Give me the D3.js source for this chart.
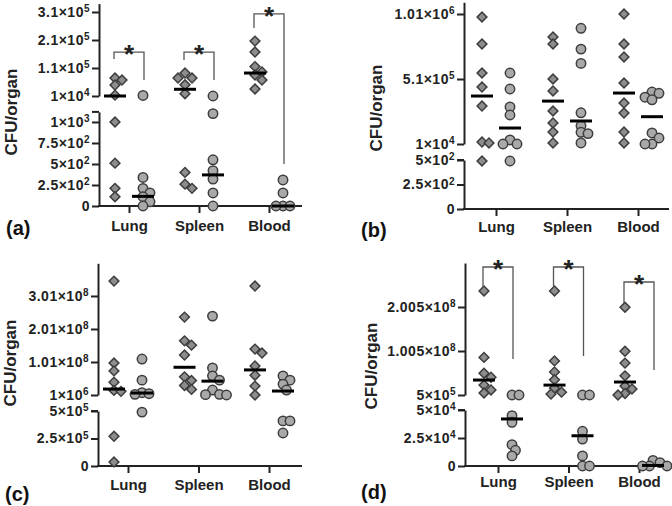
<!DOCTYPE html>
<html>
<head>
<meta charset="utf-8">
<script src="https://cdn.jsdelivr.net/npm/d3@7"></script>
<style>
  body { margin: 0; background: #fff; }
  svg { display: block; }
</style>
</head>
<body>
<svg id="chart" width="672" height="506"></svg>
<script>
const categories = ["Lung", "Spleen", "Blood"];

// (a) values, CFU/organ
const aDiamonds = [
  [74000, 67000, 49000, 13000, 1000, 510, 210, 110],
  [92000, 74000, 74000, 50000, 18000, 400, 260, 210],
  [206000, 167000, 115000, 96000, 85000, 67000, 35000]
];
const aCircles = [
  [12000, 340, 210, 155, 110, 50, 0],
  [10000, 1100, 550, 420, 320, 155, 0],
  [310, 155, 0, 0, 0]
];
const aMedDiamonds = [10000, 34000, 92000];
const aMedCircles = [115, 370, 0];
const aUpperTicks = [1e4, 1.1e5, 2.1e5, 3.1e5];
const aLowerTicks = [0, 250, 500, 750, 1000];
// significance brackets: [top, left leg end, right leg end]
const aBrackets = [
  [167000, 142000, 67000],
  [167000, 139000, 67000],
  [303000, 253000, 500]
];

// (b)
const bDiamonds = [
  [987000, 779000, 556000, 448000, 302000, 25000, 18000, 490],
  [833000, 779000, 510000, 418000, 264000, 172000, 102000, 18000],
  [1010000, 779000, 679000, 479000, 325000, 248000, 102000, 18000]
];
const bCircles = [
  [556000, 433000, 295000, 233000, 41000, 10000, 10000, 490],
  [900000, 740000, 630000, 250000, 150000, 100000, 90000, 18000],
  [410000, 400000, 370000, 350000, 95000, 56000, 10000, 10000]
];
const bMedDiamonds = [379000, 340000, 402000];
const bMedCircles = [133000, 187000, 220000];
const bUpperTicks = [1e4, 5.1e5, 1.01e6];
const bLowerTicks = [0, 250, 500];

// (c)
const cDiamonds = [
  [346e6, 98e6, 74e6, 40e6, 15e6, 12e6, 270000, 36000],
  [237e6, 165e6, 152e6, 122e6, 56e6, 45e6, 30e6, 18e6],
  [331e6, 140e6, 128e6, 89e6, 61e6, 28e6, 1e6]
];
const cCircles = [
  [110e6, 46e6, 8e6, 5e6, 3e6, 490000],
  [240e6, 83e6, 59e6, 46e6, 16e6, 3e6, 2e6, 1e6],
  [59e6, 46e6, 34e6, 16e6, 410000, 410000, 300000]
];
const cMedDiamonds = [19e6, 85e6, 77e6];
const cMedCircles = [7e6, 43e6, 13e6];
const cUpperTicks = [1e6, 1.01e8, 2.01e8, 3.01e8];
const cLowerTicks = [0, 2.5e5, 5e5];

// (d)
const dDiamonds = [
  [237e6, 86e6, 50e6, 41e6, 23e6, 12e6, 5e6],
  [237e6, 78e6, 53e6, 35e6, 16e6, 7e6, 2.5e6],
  [200e6, 100e6, 73e6, 44e6, 21e6, 14e6, 4e6, 5e5]
];
const dCircles = [
  [500000, 500000, 45000, 39000, 19000, 14000, 9000],
  [500000, 500000, 31000, 24000, 9000, 0, 0],
  [5000, 3000, 0, 0, 0]
];
const dMedDiamonds = [34.5e6, 23e6, 30e6];
const dMedCircles = [42000, 27000, 500];
const dUpperTicks = [5e5, 1.005e8, 2.005e8];
const dLowerTicks = [0, 2.5e4, 5e4];
const dBrackets = [
  [291.4e6, 243.7e6, 82.3e6],
  [291.4e6, 248e6, 89e6],
  [257.3e6, 209.6e6, 57.3e6]
];

const FONT = '"Liberation Sans", Arial, Helvetica, sans-serif';
const svg = d3.select("#chart");

function tickParts(v) {
  if (v === 0) return ["0", null];
  const [m, e] = v.toExponential().split("e");
  return [m + "×10", String(+e)];
}

// place points of one group so they don't pile up (column scatter)
function dodge(values, cx, y) {
  const placed = [];
  return values
    .map(v => ({ v, py: y(v) }))
    .sort((a, b) => a.py - b.py)
    .map(d => {
      for (let k = 0; k < 40; k++) {
        const off = k === 0 ? 0 : (k % 2 ? 1 : -1) * Math.ceil(k / 2) * 3.5;
        const px = cx + off;
        if (placed.every(q => Math.hypot(q.px - px, q.py - d.py) >= 6.5)) {
          const r = { v: d.v, px, py: d.py };
          placed.push(r);
          return r;
        }
      }
      return { v: d.v, px: cx, py: d.py };
    });
}

function drawPanel(p) {
  const g = svg.append("g");

  const x = d3.scalePoint().domain(categories).range([p.catL, p.catR]).padding(0.5);
  const yU = d3.scaleLinear().domain(p.upperDomain).range(p.upperRange);
  const yL = d3.scaleLinear().domain(p.lowerDomain).range(p.lowerRange);
  const y = v => v >= p.upperDomain[0] ? yU(v) : yL(Math.min(v, p.lowerDomain[1]));

  // y axis, two segments
  [[yU, p.upperTicks], [yL, p.lowerTicks]].forEach(([sc, ticks]) => {
    const ax = g.append("g")
      .attr("transform", `translate(${p.axisX},0)`)
      .call(d3.axisLeft(sc).tickValues(ticks).tickSize(7).tickSizeOuter(0).tickPadding(2).tickFormat(""));
    ax.attr("font-family", FONT).attr("font-size", 14).attr("font-weight", "bold");
    ax.selectAll("path, line").attr("stroke", "#222").attr("stroke-width", 2);
    ax.selectAll(".tick text").attr("fill", "#222").attr("letter-spacing", 0.5).each(function(d) {
      const [m, e] = tickParts(d);
      const t = d3.select(this).text(null);
      t.append("tspan").text(m);
      if (e) t.append("tspan").attr("dy", "-0.45em").attr("font-size", 10).text(e);
    });
  });
  // cap at the top of the lower segment
  g.append("line")
    .attr("x1", p.axisX - 7).attr("x2", p.axisX)
    .attr("y1", yL(p.lowerDomain[1])).attr("y2", yL(p.lowerDomain[1]))
    .attr("stroke", "#222").attr("stroke-width", 2);

  // x axis
  const y0 = yL(0);
  g.append("line")
    .attr("x1", p.axisX - 1).attr("x2", p.xEnd)
    .attr("y1", y0).attr("y2", y0)
    .attr("stroke", "#222").attr("stroke-width", 2);
  const xa = g.append("g")
    .attr("transform", `translate(0,${y0})`)
    .call(d3.axisBottom(x).tickSize(7).tickSizeOuter(0));
  xa.select(".domain").remove();
  xa.selectAll("line").attr("stroke", "#222").attr("stroke-width", 2);
  xa.selectAll("text")
    .attr("y", p.catBaseline - y0).attr("dy", 0)
    .attr("font-family", FONT).attr("font-size", 15).attr("font-weight", "bold")
    .attr("fill", "#222");

  // points
  const diamond = d3.symbol(d3.symbolSquare, 48)();
  categories.forEach((cat, i) => {
    const cd = x(cat) - 14, cc = x(cat) + 14;
    g.append("g").selectAll("path")
      .data(dodge(p.diamonds[i], cd, y))
      .join("path")
      .attr("d", diamond)
      .attr("transform", d => `translate(${d.px},${d.py}) rotate(45)`)
      .attr("fill", "#8d8d8d").attr("stroke", "#3d3d3d").attr("stroke-width", 1.5);
    g.append("g").selectAll("circle")
      .data(dodge(p.circles[i], cc, y))
      .join("circle")
      .attr("cx", d => d.px).attr("cy", d => d.py).attr("r", 4.7)
      .attr("fill", "#a9a9a9").attr("stroke", "#3d3d3d").attr("stroke-width", 1.5);

    [[cd, p.medDiamonds[i]], [cc, p.medCircles[i]]].forEach(([cx, m]) => {
      g.append("line")
        .attr("x1", cx - 11).attr("x2", cx + 11)
        .attr("y1", y(m)).attr("y2", y(m))
        .attr("stroke", "#000").attr("stroke-width", 3);
    });

    if (p.brackets) {
      const [top, l, r] = p.brackets[i];
      const xl = x(cat) - 15, xr = x(cat) + 15;
      g.append("path")
        .attr("d", `M${xl},${y(l)}V${y(top)}H${xr}V${y(r)}`)
        .attr("fill", "none").attr("stroke", "#555").attr("stroke-width", 1.3);
      g.append("text")
        .attr("x", (xl + xr) / 2).attr("y", y(top) + 11)
        .attr("text-anchor", "middle")
        .attr("font-family", FONT).attr("font-size", 26).attr("font-weight", "bold")
        .attr("fill", "#222").text("*");
    }
  });

  // y title
  g.append("text")
    .attr("transform", `translate(${p.titleX},${p.titleY}) rotate(-90)`)
    .attr("dy", "0.35em").attr("text-anchor", "middle")
    .attr("font-family", FONT).attr("font-size", 17).attr("font-weight", "bold")
    .attr("fill", "#222").text("CFU/organ");

  // panel letter
  g.append("text")
    .attr("x", p.letterX).attr("y", p.letterY)
    .attr("font-family", FONT).attr("font-size", 20).attr("font-weight", "bold")
    .attr("fill", "#111").text(p.letter);
}

drawPanel({
  letter: "(a)", letterX: 6, letterY: 235, titleX: 11, titleY: 112,
  axisX: 99, xEnd: 302, catL: 94, catR: 304, catBaseline: 231,
  upperDomain: [1e4, 3.4e5], upperRange: [96, 3.6],
  lowerDomain: [0, 1120], lowerRange: [206, 111.9],
  upperTicks: aUpperTicks, lowerTicks: aLowerTicks,
  diamonds: aDiamonds, circles: aCircles,
  medDiamonds: aMedDiamonds, medCircles: aMedCircles, brackets: aBrackets
});

drawPanel({
  letter: "(b)", letterX: 361, letterY: 237, titleX: 376, titleY: 108,
  axisX: 464, xEnd: 669, catL: 460.5, catR: 673.5, catBaseline: 232,
  upperDomain: [1e4, 1.1e6], upperRange: [144, 2.3],
  lowerDomain: [0, 500], lowerRange: [209, 160],
  upperTicks: bUpperTicks, lowerTicks: bLowerTicks,
  diamonds: bDiamonds, circles: bCircles,
  medDiamonds: bMedDiamonds, medCircles: bMedCircles
});

drawPanel({
  letter: "(c)", letterX: 5, letterY: 501, titleX: 10, titleY: 363,
  axisX: 98, xEnd: 302, catL: 92.75, catR: 304.25, catBaseline: 490,
  upperDomain: [1e6, 4.0e8], upperRange: [395, 263.3],
  lowerDomain: [0, 5e5], lowerRange: [466, 411],
  upperTicks: cUpperTicks, lowerTicks: cLowerTicks,
  diamonds: cDiamonds, circles: cCircles,
  medDiamonds: cMedDiamonds, medCircles: cMedCircles
});

drawPanel({
  letter: "(d)", letterX: 361, letterY: 499, titleX: 371, titleY: 366,
  axisX: 465, xEnd: 669, catL: 462.75, catR: 674.25, catBaseline: 487,
  upperDomain: [5e5, 3.005e8], upperRange: [395, 263],
  lowerDomain: [0, 5e4], lowerRange: [466, 410],
  upperTicks: dUpperTicks, lowerTicks: dLowerTicks,
  diamonds: dDiamonds, circles: dCircles,
  medDiamonds: dMedDiamonds, medCircles: dMedCircles, brackets: dBrackets
});
</script>
</body>
</html>
